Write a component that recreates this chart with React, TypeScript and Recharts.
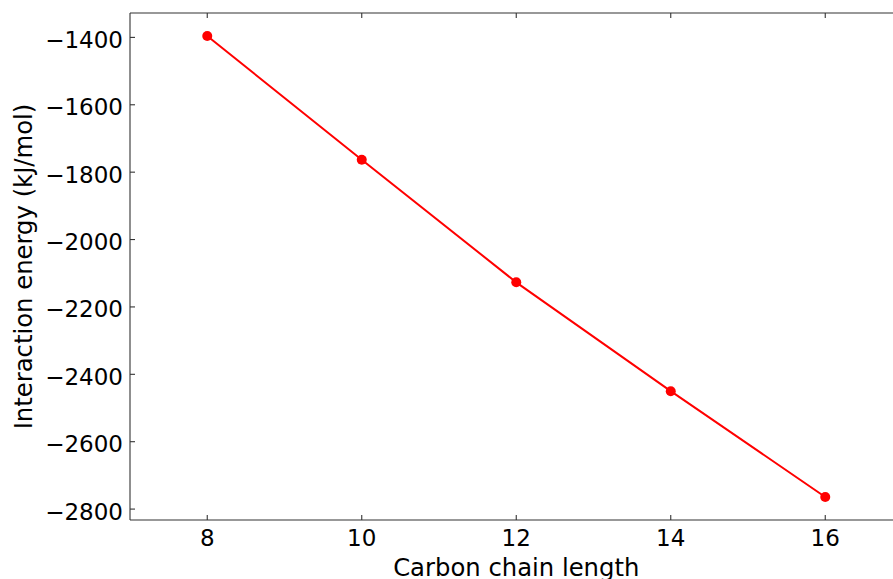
import React from 'react';
import { LineChart, Line, XAxis, YAxis } from 'recharts';

const chainLengths = [8, 10, 12, 14, 16];
const energies = [-1396, -1763, -2127, -2450, -2764];
const xTicks = [8, 10, 12, 14, 16];
const yTicks = [-1400, -1600, -1800, -2000, -2200, -2400, -2600, -2800];

const data = chainLengths.map((c, i) => ({ c, e: energies[i] }));

const FONT = '"DejaVu Sans", sans-serif';
const AX = '#333';
const TICK_FS = 23;
const LABEL_FS = 24.3;

const fmt = (v: number) => (v < 0 ? '\u2212' + Math.abs(v) : String(v));

const BottomTick = (props: any) => {
  const { x, y, payload } = props;
  return (
    <g>
      <line x1={x} x2={x} y1={y} y2={y - 5} stroke={AX} strokeWidth={1.1} />
      <text x={x} y={y + 26} textAnchor="middle" fontFamily={FONT} fontSize={TICK_FS} fill="#000">
        {fmt(payload.value)}
      </text>
    </g>
  );
};

const TopTick = (props: any) => {
  const { x, y } = props;
  return <line x1={x} x2={x} y1={y} y2={y + 5} stroke={AX} strokeWidth={1.1} />;
};

const LeftTick = (props: any) => {
  const { x, y, payload } = props;
  return (
    <g>
      <line x1={x} x2={x + 5} y1={y} y2={y} stroke={AX} strokeWidth={1.1} />
      <text x={x - 7} y={y + 10.5} textAnchor="end" fontFamily={FONT} fontSize={TICK_FS} fill="#000">
        {fmt(payload.value)}
      </text>
    </g>
  );
};

const RightTick = (props: any) => {
  const { x, y } = props;
  return <line x1={x} x2={x - 5} y1={y} y2={y} stroke={AX} strokeWidth={1.1} />;
};

const XLabel = (props: any) => {
  const vb = props.viewBox || {};
  const cx = vb.x + vb.width / 2;
  return (
    <text x={cx} y={576} textAnchor="middle" fontFamily={FONT} fontSize={LABEL_FS} fill="#000">
      Carbon chain length
    </text>
  );
};

const YLabel = (props: any) => {
  const vb = props.viewBox || {};
  const cy = vb.y + vb.height / 2;
  return (
    <text
      x={32}
      y={cy}
      transform={`rotate(-90, 32, ${cy})`}
      textAnchor="middle"
      fontFamily={FONT}
      fontSize={LABEL_FS}
      fill="#000"
    >
      Interaction energy (kJ/mol)
    </text>
  );
};

export default function App() {
  return (
    <div
      style={{
        position: 'absolute',
        left: 0,
        top: 0,
        width: 893,
        height: 579,
        overflow: 'hidden',
        background: '#fff',
      }}
    >
      <LineChart
        width={910}
        height={579}
        data={data}
        margin={{ top: 12, right: 6.5, bottom: 58, left: 129 }}
      >
        <XAxis
          xAxisId="b"
          dataKey="c"
          type="number"
          domain={[7, 17]}
          ticks={xTicks}
          height={1}
          tickSize={0}
          tickMargin={0}
          tickLine={false}
          tick={<BottomTick />}
          axisLine={{ stroke: AX, strokeWidth: 1.1 }}
          allowDataOverflow
          label={<XLabel />}
        />
        <XAxis
          xAxisId="t"
          orientation="top"
          dataKey="c"
          type="number"
          domain={[7, 17]}
          ticks={xTicks}
          height={1}
          tickSize={0}
          tickMargin={0}
          tickLine={false}
          tick={<TopTick />}
          axisLine={{ stroke: AX, strokeWidth: 1.1 }}
          allowDataOverflow
        />
        <YAxis
          yAxisId="l"
          type="number"
          domain={[-2832.4, -1327.6]}
          ticks={yTicks}
          width={1}
          tickSize={0}
          tickMargin={0}
          tickLine={false}
          tick={<LeftTick />}
          axisLine={{ stroke: AX, strokeWidth: 1.1 }}
          allowDataOverflow
          label={<YLabel />}
        />
        <YAxis
          yAxisId="r"
          orientation="right"
          type="number"
          domain={[-2832.4, -1327.6]}
          ticks={yTicks}
          width={1}
          tickSize={0}
          tickMargin={0}
          tickLine={false}
          tick={<RightTick />}
          axisLine={{ stroke: AX, strokeWidth: 1.1 }}
          allowDataOverflow
        />
        <Line
          xAxisId="b"
          yAxisId="l"
          dataKey="e"
          stroke="#ff0000"
          strokeWidth={2}
          dot={{ r: 5, fill: '#ff0000', stroke: '#ff0000', strokeWidth: 0 }}
          isAnimationActive={false}
        />
      </LineChart>
    </div>
  );
}
